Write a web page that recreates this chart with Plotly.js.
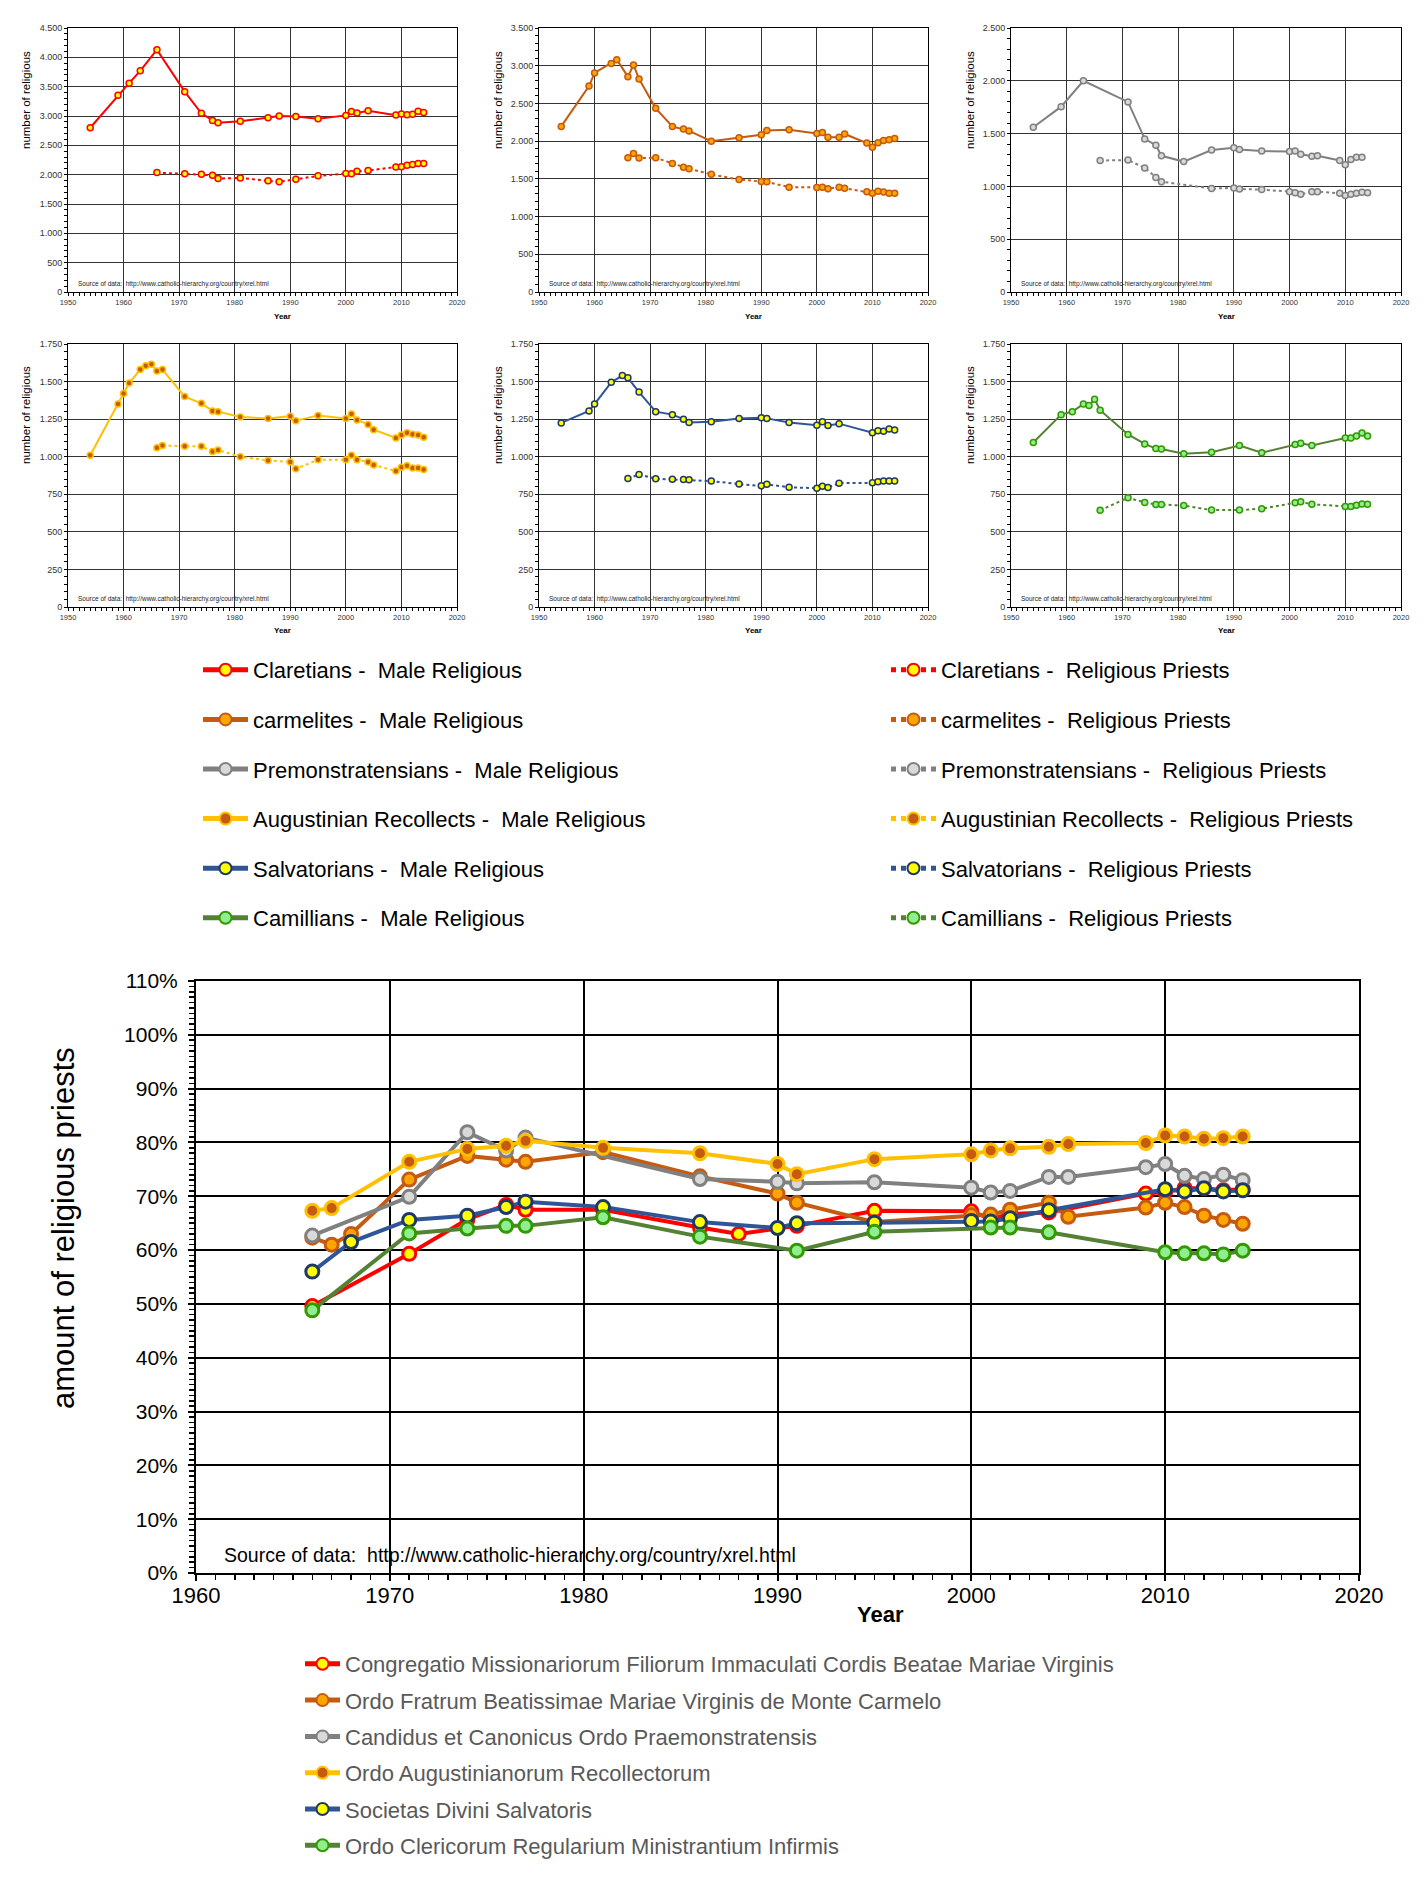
<!DOCTYPE html>
<html><head><meta charset="utf-8">
<script src="https://cdn.plot.ly/plotly-3.0.1.min.js"></script>
<style>html,body{margin:0;padding:0;background:#fff;}#chart{width:1425px;height:1885px;}</style>
</head><body><div id="chart"></div>
<script>
// ---------- DATA ----------
const orderNames = ['Claretians','carmelites','Premonstratensians','Augustinian Recollects','Salvatorians','Camillians'];
const latinNames = ['Congregatio Missionariorum Filiorum Immaculati Cordis Beatae Mariae Virginis','Ordo Fratrum Beatissimae Mariae Virginis de Monte Carmelo','Candidus et Canonicus Ordo Praemonstratensis','Ordo Augustinianorum Recollectorum','Societas Divini Salvatoris','Ordo Clericorum Regularium Ministrantium Infirmis'];
const yearTicks = [1950,1960,1970,1980,1990,2000,2010,2020];

const claretiansMaleYears = [1954,1959,1961,1963,1966,1971,1974,1976,1977,1981,1986,1988,1991,1995,2000,2001,2002,2004,2009,2010,2011,2012,2013,2014];
const claretiansMale = [2800,3355,3560,3770,4130,3415,3045,2925,2885,2910,2970,3000,2990,2955,3010,3075,3050,3090,3015,3035,3020,3030,3080,3060];
const claretiansPriestYears = [1966,1971,1974,1976,1977,1981,1986,1988,1991,1995,2000,2001,2002,2004,2009,2010,2011,2012,2013,2014];
const claretiansPriests = [2035,2015,2005,1990,1935,1945,1895,1880,1920,1980,2020,2015,2060,2070,2130,2135,2160,2175,2190,2190];

const carmelitesMaleYears = [1954,1959,1960,1963,1964,1966,1967,1968,1971,1974,1976,1977,1981,1986,1990,1991,1995,2000,2001,2002,2004,2005,2009,2010,2011,2012,2013,2014];
const carmelitesMale = [2195,2730,2905,3030,3080,2855,3010,2825,2435,2195,2160,2135,2000,2045,2085,2140,2150,2100,2115,2050,2050,2095,1975,1920,1980,2010,2020,2035];
const carmelitesPriestYears = [1966,1967,1968,1971,1974,1976,1977,1981,1986,1990,1991,1995,2000,2001,2002,2004,2005,2009,2010,2011,2012,2013,2014];
const carmelitesPriests = [1780,1835,1775,1780,1705,1655,1635,1560,1490,1465,1460,1390,1385,1390,1370,1390,1375,1330,1310,1335,1325,1310,1310];

const premonMaleYears = [1954,1959,1963,1971,1974,1976,1977,1981,1986,1990,1991,1995,2000,2001,2002,2004,2005,2009,2010,2011,2012,2013];
const premonMale = [1560,1755,2000,1800,1450,1390,1290,1235,1345,1365,1350,1335,1330,1335,1305,1285,1290,1245,1205,1255,1275,1275];
const premonPriestYears = [1966,1971,1974,1976,1977,1986,1990,1991,1995,2000,2001,2002,2004,2005,2009,2010,2011,2012,2013,2014];
const premonPriests = [1245,1250,1175,1085,1045,980,985,975,970,950,940,925,950,950,935,915,925,935,945,940];

const augustMaleYears = [1954,1959,1960,1961,1963,1964,1965,1966,1967,1971,1974,1976,1977,1981,1986,1990,1991,1995,2000,2001,2002,2004,2005,2009,2010,2011,2012,2013,2014];
const augustMale = [1010,1350,1420,1490,1580,1605,1615,1570,1580,1400,1355,1305,1300,1265,1255,1270,1240,1275,1255,1285,1245,1215,1180,1125,1145,1160,1150,1145,1130];
const augustPriestYears = [1966,1967,1971,1974,1976,1977,1981,1986,1990,1991,1995,2000,2001,2002,2004,2005,2009,2010,2011,2012,2013,2014];
const augustPriests = [1060,1075,1070,1070,1035,1045,1000,975,965,920,980,980,1010,980,965,945,905,930,940,925,925,915];

const salvMaleYears = [1954,1959,1960,1963,1965,1966,1968,1971,1974,1976,1977,1981,1986,1990,1991,1995,2000,2001,2002,2004,2010,2011,2012,2013,2014];
const salvMale = [1225,1305,1350,1495,1540,1525,1430,1300,1280,1250,1228,1232,1255,1260,1255,1228,1210,1232,1208,1220,1160,1172,1170,1185,1178];
const salvPriestYears = [1966,1968,1971,1974,1976,1977,1981,1986,1990,1991,1995,2000,2001,2002,2004,2010,2011,2012,2013,2014];
const salvPriests = [855,882,853,850,848,846,838,818,806,816,797,790,804,795,824,826,833,838,838,838];

const camilMaleYears = [1954,1959,1961,1963,1964,1965,1966,1971,1974,1976,1977,1981,1986,1991,1995,2001,2002,2004,2010,2011,2012,2013,2014];
const camilMale = [1095,1280,1300,1350,1340,1383,1310,1148,1085,1054,1052,1020,1030,1074,1026,1082,1090,1074,1125,1125,1138,1158,1138];
const camilPriestYears = [1966,1971,1974,1976,1977,1981,1986,1991,1995,2001,2002,2004,2010,2011,2012,2013,2014];
const camilPriests = [643,727,696,682,682,675,645,645,654,694,700,683,668,668,677,686,684];

// share of religious priests (%)
const claretiansPctYears = [1966,1971,1974,1976,1977,1981,1986,1988,1991,1995,2000,2001,2002,2004,2009,2010,2011,2012,2013,2014];
const claretiansPct = [49.6,59.3,65.7,68.4,67.5,67.5,64.2,63.0,64.5,67.3,67.2,65.8,66.7,67.0,70.5,70.8,71.5,71.5,71.1,71.3];
const carmelitesPctYears = [1966,1967,1968,1971,1974,1976,1977,1981,1986,1990,1991,1995,2000,2001,2002,2004,2005,2009,2010,2011,2012,2013,2014];
const carmelitesPct = [62.3,61.0,63.0,73.1,77.5,76.8,76.4,78.2,73.7,70.5,68.8,65.2,66.5,66.6,67.5,68.8,66.2,67.9,68.8,68.0,66.4,65.6,64.9];
const premonPctYears = [1966,1971,1974,1976,1977,1986,1990,1991,1995,2000,2001,2002,2004,2005,2009,2010,2011,2012,2013,2014];
const premonPct = [62.7,69.9,81.9,78.5,80.9,73.2,72.7,72.4,72.6,71.6,70.7,71.0,73.6,73.6,75.4,76.0,73.8,73.2,74.0,73.0];
const augustPctYears = [1966,1967,1971,1974,1976,1977,1981,1986,1990,1991,1995,2000,2001,2002,2004,2005,2009,2010,2011,2012,2013,2014];
const augustPct = [67.3,67.8,76.4,78.8,79.4,80.3,79.0,78.0,76.0,74.1,76.9,77.8,78.5,78.9,79.2,79.7,79.9,81.3,81.1,80.7,80.8,81.1];
const salvPctYears = [1966,1968,1971,1974,1976,1977,1981,1986,1990,1991,1995,2000,2001,2002,2004,2010,2011,2012,2013,2014];
const salvPct = [56.0,61.5,65.6,66.4,68.0,69.0,68.0,65.2,64.1,65.0,65.1,65.4,65.3,65.9,67.4,71.3,70.9,71.5,70.9,71.1];
const camilPctYears = [1966,1971,1974,1976,1977,1981,1986,1991,1995,2001,2002,2004,2010,2011,2012,2013,2014];
const camilPct = [48.8,63.1,64.0,64.5,64.5,66.1,62.5,59.9,63.4,64.2,64.2,63.3,59.6,59.4,59.4,59.2,59.9];

const smallYMax = [4500,3500,2500,1750,1750,1750];
const smallYStep = [500,500,500,250,250,250];
const smallYMinor = [100,100,100,50,50,50];

// ---------- STYLE ----------
const styles = [
  {line:'#ff0000', fill:'#ffff00', edge:'#ff0000'},
  {line:'#c55a11', fill:'#ffa500', edge:'#c55a11'},
  {line:'#808080', fill:'#d9d9d9', edge:'#808080'},
  {line:'#ffc000', fill:'#c55a11', edge:'#ffc000'},
  {line:'#2f5597', fill:'#ffff00', edge:'#1f3864'},
  {line:'#548235', fill:'#90ee90', edge:'#339900'}
];
const maleX = [claretiansMaleYears, carmelitesMaleYears, premonMaleYears, augustMaleYears, salvMaleYears, camilMaleYears];
const maleY = [claretiansMale, carmelitesMale, premonMale, augustMale, salvMale, camilMale];
const priX = [claretiansPriestYears, carmelitesPriestYears, premonPriestYears, augustPriestYears, salvPriestYears, camilPriestYears];
const priY = [claretiansPriests, carmelitesPriests, premonPriests, augustPriests, salvPriests, camilPriests];
const pctX = [claretiansPctYears, carmelitesPctYears, premonPctYears, augustPctYears, salvPctYears, camilPctYears];
const pctY = [claretiansPct, carmelitesPct, premonPct, augustPct, salvPct, camilPct];

const W = 1425, H = 1885;
const fx = v => v / W, fy = v => 1 - v / H;
const FONT = 'Liberation Sans, Arial, sans-serif';
const cols = [[68,457],[539,928],[1011,1401]];
const rows = [[28,292],[344,607]];
const yTitleX = [26,498,970];
const yTitleY = [100,415];
const yearTitleY = [316,631];

const layout = {
  width: W, height: H, margin: {l:0,r:0,t:0,b:0},
  paper_bgcolor: '#fff', plot_bgcolor: '#fff',
  separators: ',.', showlegend: true,
  font: {family: FONT, color: '#000'},
  annotations: [],
  legend: {x: fx(198), y: fy(649), xanchor:'left', yanchor:'top', font:{family:FONT,size:22,color:'#000'}, itemwidth:45, tracegroupgap:18, bgcolor:'rgba(0,0,0,0)', itemsizing:'constant'},
  legend2: {x: fx(886), y: fy(649), xanchor:'left', yanchor:'top', font:{family:FONT,size:22,color:'#000'}, itemwidth:45, tracegroupgap:18, bgcolor:'rgba(0,0,0,0)', itemsizing:'constant'},
  legend3: {x: fx(300), y: fy(1643), xanchor:'left', yanchor:'top', font:{family:FONT,size:22,color:'#595959'}, itemwidth:35, tracegroupgap:4.7, bgcolor:'rgba(0,0,0,0)', itemsizing:'constant'}
};
const traces = [];
const aid = n => (n === 1 ? '' : String(n));

for (let i = 0; i < 6; i++) {
  const n = i + 1, r = Math.floor(i / 3), c = i % 3;
  const [x0, x1] = cols[c], [y0, y1] = rows[r];
  const xid = 'x' + aid(n), yid = 'y' + aid(n);
  const dom = {x:[fx(x0), fx(x1)], y:[fy(y1), fy(y0)]};
  layout['xaxis' + aid(n)] = {
    domain: dom.x, anchor: yid, range: [1950, 2020], tickmode:'array', tickvals: yearTicks,
    showgrid: true, gridcolor: '#333', gridwidth: 1, zeroline: false,
    showline: true, linecolor: '#000', linewidth: 1, mirror: true,
    ticks: 'outside', ticklen: 3, tickcolor: '#000', tickwidth: 1,
    minor: {dtick: 1, tick0: 1950, ticks: 'outside', ticklen: 3, tickcolor: '#000', showgrid: false},
    tickfont: {family: FONT, size: 7.5, color: '#333'}, fixedrange: true
  };
  layout['yaxis' + aid(n)] = {
    domain: dom.y, anchor: xid, range: [0, smallYMax[i]], dtick: smallYStep[i], tick0: 0, tickformat: ',d',
    showgrid: true, gridcolor: '#333', gridwidth: 1, zeroline: false,
    showline: true, linecolor: '#000', linewidth: 1, mirror: true,
    ticks: 'outside', ticklen: 3, tickcolor: '#000',
    minor: {dtick: smallYMinor[i], ticks: 'outside', ticklen: 3, tickcolor: '#000', showgrid: false},
    tickfont: {family: FONT, size: 9, color: '#333'}, fixedrange: true
  };
  const on = n + 7;
  layout['xaxis' + on] = {overlaying: xid, anchor: yid, side: 'bottom', range: [1950, 2020], tickmode:'array', tickvals: yearTicks,
    showgrid:false, zeroline:false, showline:false, showticklabels:false, ticks:'inside', ticklen:3, tickcolor:'#000',
    minor:{dtick:1, tick0:1950, ticks:'inside', ticklen:3, tickcolor:'#000', showgrid:false}, fixedrange:true};
  layout['yaxis' + on] = {overlaying: yid, anchor: xid, side: 'left', range: [0, smallYMax[i]], dtick: smallYStep[i],
    showgrid:false, zeroline:false, showline:false, showticklabels:false, ticks:'inside', ticklen:3, tickcolor:'#000',
    minor:{dtick: smallYMinor[i], ticks:'inside', ticklen:3, tickcolor:'#000', showgrid:false}, fixedrange:true};

  const st = styles[i];
  traces.push({type:'scatter', mode:'lines+markers', x: maleX[i], y: maleY[i], xaxis: xid, yaxis: yid,
    name: orderNames[i] + ' -\u00a0 Male Religious', legend: 'legend', legendgroup: 'm' + i,
    line: {color: st.line, width: 2}, marker: {size: 6, color: st.fill, line: {color: st.edge, width: 1.5}}, hoverinfo:'skip'});
  traces.push({type:'scatter', mode:'lines+markers', x: priX[i], y: priY[i], xaxis: xid, yaxis: yid,
    name: orderNames[i] + ' -\u00a0 Religious Priests', legend: 'legend2', legendgroup: 'p' + i,
    line: {color: st.line, width: 2, dash: 'dot'}, marker: {size: 6, color: st.fill, line: {color: st.edge, width: 1.5}}, hoverinfo:'skip'});

  layout.annotations.push({xref:'paper', yref:'paper', x: fx(yTitleX[c]), y: fy(yTitleY[r]), text:'number of religious', textangle:-90,
    showarrow:false, xanchor:'center', yanchor:'middle', font:{family:FONT, size:11.5, color:'#000'}});
  layout.annotations.push({xref:'paper', yref:'paper', x: fx((x0 + x1) / 2 + 20), y: fy(yearTitleY[r]), text:'<b>Year</b>',
    showarrow:false, xanchor:'center', yanchor:'middle', font:{family:FONT, size:8, color:'#000'}});
  layout.annotations.push({xref:'paper', yref:'paper', x: fx(x0 + 8), y: fy(y1 - 8), text:'Source of data:\u00a0 http://www.catholic-hierarchy.org/country/xrel.html',
    showarrow:false, xanchor:'left', yanchor:'middle', font:{family:FONT, size:6.5, color:'#222'}});
}

// bottom chart
const B = {x0:196, x1:1359, y0:981, y1:1573};
layout.xaxis7 = {domain:[fx(B.x0), fx(B.x1)], anchor:'y7', range:[1960,2020], dtick:10, tick0:1960,
  showgrid:true, gridcolor:'#000', gridwidth:2, zeroline:false, showline:true, linecolor:'#000', linewidth:2, mirror:true,
  ticks:'outside', ticklen:6, tickwidth:2, tickcolor:'#000', ticklabelstandoff:-4,
  minor:{dtick:1, tick0:1960, ticks:'outside', ticklen:5, tickwidth:1.5, tickcolor:'#000', showgrid:false},
  tickfont:{family:FONT, size:22, color:'#000'}, fixedrange:true};
layout.yaxis7 = {domain:[fy(B.y1), fy(B.y0)], anchor:'x7', range:[0,110], dtick:10, tick0:0, ticksuffix:'%',
  showgrid:true, gridcolor:'#000', gridwidth:2, zeroline:false, showline:true, linecolor:'#000', linewidth:2, mirror:true,
  ticks:'outside', ticklen:6, tickwidth:2, tickcolor:'#000', ticklabelstandoff:6,
  minor:{dtick:1, ticks:'outside', ticklen:5, tickwidth:1.5, tickcolor:'#000', showgrid:false},
  tickfont:{family:FONT, size:21, color:'#000'}, fixedrange:true};
layout.xaxis14 = {overlaying:'x7', anchor:'y7', side:'bottom', range:[1960,2020], dtick:10, tick0:1960,
  showgrid:false, zeroline:false, showline:false, showticklabels:false, ticks:'inside', ticklen:6, tickwidth:2, tickcolor:'#000',
  minor:{dtick:1, tick0:1960, ticks:'inside', ticklen:5, tickwidth:1.5, tickcolor:'#000', showgrid:false}, fixedrange:true};
layout.yaxis14 = {overlaying:'y7', anchor:'x7', side:'left', range:[0,110], dtick:10, tick0:0,
  showgrid:false, zeroline:false, showline:false, showticklabels:false, ticks:'inside', ticklen:6, tickwidth:2, tickcolor:'#000',
  minor:{dtick:1, ticks:'inside', ticklen:5, tickwidth:1.5, tickcolor:'#000', showgrid:false}, fixedrange:true};

for (let i = 0; i < 6; i++) {
  const st = styles[i];
  traces.push({type:'scatter', mode:'lines+markers', x: pctX[i], y: pctY[i], xaxis:'x7', yaxis:'y7',
    name: latinNames[i], legend:'legend3', legendgroup:'q' + i,
    line:{color: st.line, width: 4}, marker:{size: 13, color: st.fill, line:{color: st.edge, width: 3}}, hoverinfo:'skip'});
}
layout.annotations.push({xref:'paper', yref:'paper', x: fx(63), y: fy(1228), text:'amount of religious priests', textangle:-90,
  showarrow:false, xanchor:'center', yanchor:'middle', font:{family:FONT, size:31, color:'#000'}});
layout.annotations.push({xref:'paper', yref:'paper', x: fx(880), y: fy(1614), text:'<b>Year</b>',
  showarrow:false, xanchor:'center', yanchor:'middle', font:{family:FONT, size:22, color:'#000'}});
layout.annotations.push({xref:'paper', yref:'paper', x: fx(222), y: fy(1555), text:'Source of data:\u00a0 http://www.catholic-hierarchy.org/country/xrel.html',
  showarrow:false, xanchor:'left', yanchor:'middle', font:{family:FONT, size:19.5, color:'#000'}});

Plotly.newPlot('chart', traces, layout, {displayModeBar:false, staticPlot:true});
</script></body></html>
